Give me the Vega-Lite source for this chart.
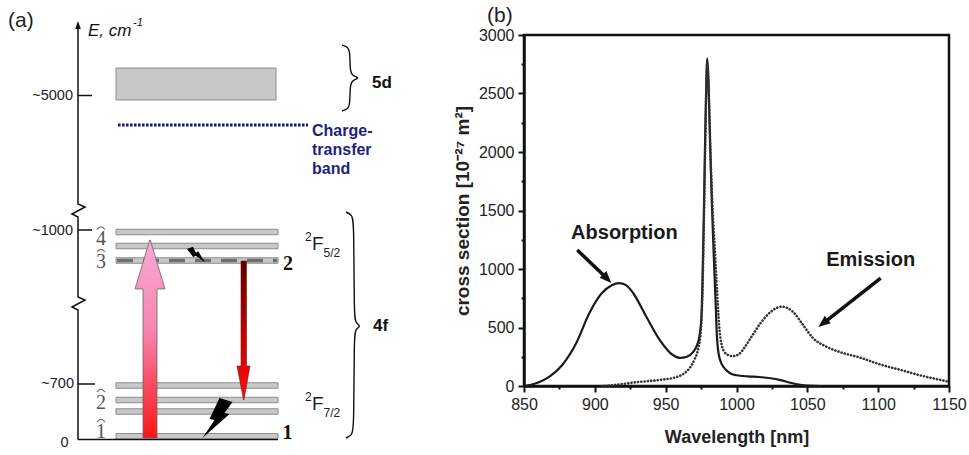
{
  "$schema": "https://vega.github.io/schema/vega-lite/v6.json",
  "padding": 0,
  "background": "white",
  "config": {"view": {"stroke": null}},
  "datasets": {
    "axisLine": [
      {"o": 1, "x": 15.6, "y": 3.1}, {"o": 2, "x": 15.6, "y": 29.0}, {"o": 3, "x": 14.4, "y": 29.6},
      {"o": 4, "x": 17.0, "y": 31.0}, {"o": 5, "x": 15.6, "y": 31.6}, {"o": 6, "x": 15.6, "y": 47.6},
      {"o": 7, "x": 14.4, "y": 48.2}, {"o": 8, "x": 17.0, "y": 49.6}, {"o": 9, "x": 15.6, "y": 50.2},
      {"o": 10, "x": 15.6, "y": 85.6}
    ],
    "axisHead": [{"x": 15.6, "y": 86.0}],
    "ticksA": [
      {"x": 15.6, "x2": 18.4, "y": 71.9}, {"x": 15.6, "x2": 18.4, "y": 45.0},
      {"x": 15.6, "x2": 19.0, "y": 14.2}, {"x": 15.6, "x2": 55.6, "y": 3.1}
    ],
    "tickLabelsA": [
      {"x": 14.6, "y": 71.8, "t": "~5000"}, {"x": 14.6, "y": 44.8, "t": "~1000"},
      {"x": 14.8, "y": 14.2, "t": "~700"}, {"x": 13.7, "y": 2.4, "t": "0"}
    ],
    "bands": [
      {"x": 23.2, "x2": 55.2, "y": 71.0, "y2": 77.4},
      {"x": 23.2, "x2": 55.6, "y": 44.05, "y2": 45.15},
      {"x": 23.2, "x2": 55.6, "y": 41.25, "y2": 42.35},
      {"x": 23.2, "x2": 55.6, "y": 38.35, "y2": 39.45},
      {"x": 23.2, "x2": 55.6, "y": 13.35, "y2": 14.45},
      {"x": 23.2, "x2": 55.6, "y": 10.45, "y2": 11.55},
      {"x": 23.2, "x2": 55.6, "y": 8.15, "y2": 9.25},
      {"x": 23.2, "x2": 55.6, "y": 3.2, "y2": 4.3}
    ],
    "dashLevel": [{"x": 23.4, "x2": 55.4, "y": 38.9}],
    "ctLine": [{"x": 23.6, "x2": 61.6, "y": 66.0}],
    "ctText": [
      {"x": 62.4, "y": 64.8, "t": "Charge-"}, {"x": 62.4, "y": 61.0, "t": "transfer"},
      {"x": 62.4, "y": 57.2, "t": "band"}
    ],
    "braces": [
      {"b": "5d", "o": 1, "x": 68.4, "y": 82.0}, {"b": "5d", "o": 2, "x": 69.6, "y": 81.6},
      {"b": "5d", "o": 3, "x": 70.0, "y": 80.6}, {"b": "5d", "o": 4, "x": 70.0, "y": 76.6},
      {"b": "5d", "o": 5, "x": 70.6, "y": 75.8}, {"b": "5d", "o": 6, "x": 72.0, "y": 75.4},
      {"b": "5d", "o": 7, "x": 70.6, "y": 75.0}, {"b": "5d", "o": 8, "x": 70.0, "y": 74.2},
      {"b": "5d", "o": 9, "x": 70.0, "y": 70.2}, {"b": "5d", "o": 10, "x": 69.6, "y": 69.2},
      {"b": "5d", "o": 11, "x": 68.4, "y": 68.8},
      {"b": "4f", "o": 1, "x": 69.2, "y": 48.6}, {"b": "4f", "o": 2, "x": 70.4, "y": 48.0},
      {"b": "4f", "o": 3, "x": 70.8, "y": 46.6}, {"b": "4f", "o": 4, "x": 70.8, "y": 27.4},
      {"b": "4f", "o": 5, "x": 71.2, "y": 26.4}, {"b": "4f", "o": 6, "x": 72.2, "y": 25.8},
      {"b": "4f", "o": 7, "x": 71.2, "y": 25.2}, {"b": "4f", "o": 8, "x": 70.8, "y": 24.2},
      {"b": "4f", "o": 9, "x": 70.8, "y": 5.4}, {"b": "4f", "o": 10, "x": 70.4, "y": 4.0},
      {"b": "4f", "o": 11, "x": 69.2, "y": 3.4}
    ],
    "braceLabels": [{"x": 74.4, "y": 74.4, "t": "5d"}, {"x": 74.6, "y": 25.8, "t": "4f"}],
    "levelNums": [
      {"x": 20.2, "y": 43.2, "t": "4"}, {"x": 20.2, "y": 38.6, "t": "3"},
      {"x": 20.2, "y": 10.4, "t": "2"}, {"x": 20.2, "y": 4.7, "t": "1"}
    ],
    "levelHats": [{"x": 20.2, "y": 45.5}, {"x": 20.2, "y": 41.0}, {"x": 20.2, "y": 13.0}, {"x": 20.2, "y": 7.0}],
    "levelBold": [{"x": 57.6, "y": 38.3, "t": "2"}, {"x": 57.5, "y": 4.5, "t": "1"}],
    "termF": [{"x": 62.4, "y": 41.0, "t": "F"}, {"x": 62.4, "y": 9.0, "t": "F"}],
    "termSup": [{"x": 61.0, "y": 42.8, "t": "2"}, {"x": 61.0, "y": 10.8, "t": "2"}],
    "termSub": [{"x": 64.7, "y": 39.7, "t": "5/2"}, {"x": 64.7, "y": 7.7, "t": "7/2"}],
    "arrowUp": [
      {"y": 3.4, "x": 28.6, "x2": 31.4}, {"y": 33.2, "x": 28.6, "x2": 31.4},
      {"y": 33.21, "x": 27.0, "x2": 33.0}, {"y": 43.0, "x": 29.95, "x2": 30.05}
    ],
    "arrowDown": [
      {"y": 11.0, "x": 48.72, "x2": 48.78}, {"y": 17.79, "x": 47.4, "x2": 50.0},
      {"y": 17.8, "x": 48.2, "x2": 49.3}, {"y": 38.8, "x": 48.2, "x2": 49.3}
    ],
    "boltBig": [{"x": 43.5, "y": 7.4}],
    "boltSmall": [{"x": 39.2, "y": 40.1}],
    "titleA": [{"x": 1.6, "y": 86.8, "t": "(a)"}],
    "eLabel": [{"x": 17.6, "y": 84.8, "t": "E, cm"}],
    "eSup": [{"x": 26.6, "y": 86.4, "t": "-1"}],
    "blabel": [{"x": 823.9, "y": 0.55, "t": "(b)"}],
    "absorption": [
      {"wl": 850, "cs": 0}, {"wl": 855, "cs": 10}, {"wl": 860, "cs": 30}, {"wl": 868, "cs": 80},
      {"wl": 877, "cs": 180}, {"wl": 887, "cs": 370}, {"wl": 896, "cs": 620}, {"wl": 905, "cs": 795},
      {"wl": 912, "cs": 862}, {"wl": 917, "cs": 880}, {"wl": 922, "cs": 862}, {"wl": 927, "cs": 795},
      {"wl": 936, "cs": 600}, {"wl": 946, "cs": 390}, {"wl": 955, "cs": 265}, {"wl": 960, "cs": 240},
      {"wl": 965, "cs": 250}, {"wl": 969, "cs": 285}, {"wl": 972, "cs": 345}, {"wl": 974, "cs": 440},
      {"wl": 975.3, "cs": 600}, {"wl": 976, "cs": 900}, {"wl": 977, "cs": 1500}, {"wl": 978, "cs": 2200},
      {"wl": 978.8, "cs": 2650}, {"wl": 979.3, "cs": 2800}, {"wl": 980.2, "cs": 2620}, {"wl": 981.3, "cs": 2100},
      {"wl": 982.5, "cs": 1600}, {"wl": 984, "cs": 1100}, {"wl": 985.3, "cs": 700}, {"wl": 986.2, "cs": 420},
      {"wl": 987.2, "cs": 290}, {"wl": 988.5, "cs": 220}, {"wl": 991, "cs": 160}, {"wl": 995, "cs": 113},
      {"wl": 1000, "cs": 92}, {"wl": 1008, "cs": 82}, {"wl": 1016, "cs": 77}, {"wl": 1024, "cs": 66},
      {"wl": 1031, "cs": 50}, {"wl": 1038, "cs": 28}, {"wl": 1044, "cs": 12}, {"wl": 1050, "cs": 3},
      {"wl": 1060, "cs": 0}
    ],
    "emission": [
      {"wl": 905, "cs": 0}, {"wl": 915, "cs": 10}, {"wl": 929, "cs": 32}, {"wl": 946, "cs": 52},
      {"wl": 958, "cs": 78}, {"wl": 963, "cs": 108}, {"wl": 967, "cs": 155}, {"wl": 970.5, "cs": 230},
      {"wl": 973, "cs": 320}, {"wl": 974.8, "cs": 470}, {"wl": 976, "cs": 800}, {"wl": 977, "cs": 1400},
      {"wl": 978, "cs": 2100}, {"wl": 978.8, "cs": 2600}, {"wl": 979.3, "cs": 2760}, {"wl": 980.2, "cs": 2580},
      {"wl": 981.5, "cs": 2050}, {"wl": 983, "cs": 1550}, {"wl": 985, "cs": 1100}, {"wl": 986.8, "cs": 700},
      {"wl": 988, "cs": 480}, {"wl": 989.5, "cs": 350}, {"wl": 991, "cs": 300}, {"wl": 994, "cs": 265},
      {"wl": 997.5, "cs": 255}, {"wl": 1002, "cs": 275}, {"wl": 1006, "cs": 335}, {"wl": 1010, "cs": 410},
      {"wl": 1017, "cs": 538}, {"wl": 1024, "cs": 632}, {"wl": 1032, "cs": 678}, {"wl": 1040, "cs": 632},
      {"wl": 1047, "cs": 521}, {"wl": 1054, "cs": 410}, {"wl": 1064, "cs": 333}, {"wl": 1073, "cs": 290},
      {"wl": 1088, "cs": 240}, {"wl": 1102, "cs": 182}, {"wl": 1116, "cs": 137}, {"wl": 1130, "cs": 90},
      {"wl": 1144, "cs": 52}, {"wl": 1150, "cs": 36}
    ],
    "arrowRulesB": [
      {"wl": 887.6, "cs": 1162, "wl2": 907.7, "cs2": 930},
      {"wl": 1101.8, "cs": 923, "wl2": 1062.3, "cs2": 547}
    ],
    "arrowHeadsB": [
      {"wl": 908.7, "cs": 917, "ang": 135.8},
      {"wl": 1061.1, "cs": 536, "ang": 231.7}
    ],
    "labelsB": [
      {"wl": 920.9, "cs": 1308, "t": "Absorption"},
      {"wl": 1094.7, "cs": 1077, "t": "Emission"}
    ]
  },
  "bounds": "flush",
  "spacing": 44,
  "hconcat": [
    {
      "width": 480,
      "height": 455,
      "encoding": {
        "x": {"field": "x", "type": "quantitative", "scale": {"domain": [0, 96], "nice": false, "zero": false}, "axis": null},
        "y": {"field": "y", "type": "quantitative", "scale": {"domain": [0, 91], "nice": false, "zero": false}, "axis": null}
      },
      "layer": [
        {"data": {"name": "bands"}, "mark": {"type": "rect", "fill": "#c8c8c8", "stroke": "#8c8c8c", "strokeWidth": 1},
         "encoding": {"x2": {"field": "x2"}, "y2": {"field": "y2"}}},
        {"data": {"name": "dashLevel"}, "mark": {"type": "rule", "color": "#6f6f6f", "strokeWidth": 3.5, "strokeDash": [16, 10]},
         "encoding": {"x2": {"field": "x2"}}},
        {"data": {"name": "ctLine"}, "mark": {"type": "rule", "color": "#1b1b78", "strokeWidth": 3, "strokeDash": [2.6, 1.4]},
         "encoding": {"x2": {"field": "x2"}}},
        {"data": {"name": "axisLine"}, "mark": {"type": "line", "color": "#111", "strokeWidth": 1.5},
         "encoding": {"order": {"field": "o", "type": "quantitative"}}},
        {"data": {"name": "ticksA"}, "mark": {"type": "rule", "color": "#111", "strokeWidth": 1.5},
         "encoding": {"x2": {"field": "x2"}}},
        {"data": {"name": "axisHead"}, "mark": {"type": "point", "shape": "M0,-1L0.7,1L-0.7,1Z", "filled": true, "color": "#111", "size": 64, "opacity": 1}},
        {"data": {"name": "tickLabelsA"}, "mark": {"type": "text", "align": "right", "baseline": "middle", "font": "Liberation Sans", "fontSize": 14.5, "color": "#222"},
         "encoding": {"text": {"field": "t"}}},
        {"data": {"name": "titleA"}, "mark": {"type": "text", "align": "left", "baseline": "middle", "font": "Liberation Sans", "fontSize": 21, "color": "#222"},
         "encoding": {"text": {"field": "t"}}},
        {"data": {"name": "eLabel"}, "mark": {"type": "text", "align": "left", "baseline": "middle", "font": "Liberation Sans", "fontSize": 17, "fontStyle": "italic", "color": "#111"},
         "encoding": {"text": {"field": "t"}}},
        {"data": {"name": "eSup"}, "mark": {"type": "text", "align": "left", "baseline": "middle", "font": "Liberation Sans", "fontSize": 11, "fontStyle": "italic", "color": "#111"},
         "encoding": {"text": {"field": "t"}}},
        {"data": {"name": "ctText"}, "mark": {"type": "text", "align": "left", "baseline": "middle", "font": "Liberation Sans", "fontSize": 16, "fontWeight": "bold", "color": "#1f1f80"},
         "encoding": {"text": {"field": "t"}}},
        {"data": {"name": "braces"}, "mark": {"type": "line", "color": "#111", "strokeWidth": 1.4, "interpolate": "basis"},
         "encoding": {"detail": {"field": "b"}, "order": {"field": "o", "type": "quantitative"}}},
        {"data": {"name": "braceLabels"}, "mark": {"type": "text", "align": "left", "baseline": "middle", "font": "Liberation Sans", "fontSize": 17, "fontWeight": "bold", "color": "#111"},
         "encoding": {"text": {"field": "t"}}},
        {"data": {"name": "levelNums"}, "mark": {"type": "text", "align": "center", "baseline": "middle", "font": "Liberation Serif", "fontSize": 20, "color": "#555"},
         "encoding": {"text": {"field": "t"}}},
        {"data": {"name": "levelHats"}, "mark": {"type": "point", "shape": "M-1,0.5Q0,-0.9,1,0.5", "filled": false, "stroke": "#666", "strokeWidth": 1.1, "size": 64, "opacity": 1}},
        {"data": {"name": "levelBold"}, "mark": {"type": "text", "align": "center", "baseline": "middle", "font": "Liberation Serif", "fontSize": 20, "fontWeight": "bold", "color": "#111"},
         "encoding": {"text": {"field": "t"}}},
        {"data": {"name": "termF"}, "mark": {"type": "text", "align": "left", "baseline": "alphabetic", "font": "Liberation Sans", "fontSize": 19, "color": "#222"},
         "encoding": {"text": {"field": "t"}}},
        {"data": {"name": "termSup"}, "mark": {"type": "text", "align": "left", "baseline": "alphabetic", "font": "Liberation Sans", "fontSize": 12, "color": "#222"},
         "encoding": {"text": {"field": "t"}}},
        {"data": {"name": "termSub"}, "mark": {"type": "text", "align": "left", "baseline": "alphabetic", "font": "Liberation Sans", "fontSize": 12, "color": "#222"},
         "encoding": {"text": {"field": "t"}}},
        {"data": {"name": "arrowUp"},
         "mark": {"type": "area", "orient": "horizontal", "stroke": "#666", "strokeWidth": 0.8,
                  "fill": {"gradient": "linear", "x1": 0, "y1": 0, "x2": 0, "y2": 1,
                           "stops": [{"offset": 0, "color": "#f6a9d4"}, {"offset": 0.45, "color": "#f787b0"}, {"offset": 1, "color": "#ff1414"}]}},
         "encoding": {"x2": {"field": "x2"}}},
        {"data": {"name": "arrowDown"},
         "mark": {"type": "area", "orient": "horizontal", "stroke": "#7a1010", "strokeWidth": 0.6,
                  "fill": {"gradient": "linear", "x1": 0, "y1": 0, "x2": 0, "y2": 1,
                           "stops": [{"offset": 0, "color": "#5a0000"}, {"offset": 0.6, "color": "#d00000"}, {"offset": 1, "color": "#ff1010"}]}},
         "encoding": {"x2": {"field": "x2"}}},
        {"data": {"name": "boltBig"}, "mark": {"type": "point", "shape": "M0.1,-1L0.75,-0.8L0.35,-0.25L0.6,-0.2L-0.75,1L-0.15,0.1L-0.4,0.05Z", "filled": true, "color": "#000", "size": 1600, "opacity": 1}},
        {"data": {"name": "boltSmall"}, "mark": {"type": "point", "shape": "M-1,-0.6L-0.35,-0.85L0,-0.2L0.25,-0.35L1,0.85L-0.05,0.15L-0.3,0.3Z", "filled": true, "color": "#000", "size": 324, "opacity": 1}}
      ]
    },
    {
      "bounds": "flush",
      "spacing": 0,
      "vconcat": [
        {
          "width": 425,
          "height": 35,
          "data": {"name": "blabel"},
          "mark": {"type": "text", "align": "left", "baseline": "middle", "font": "Liberation Sans", "fontSize": 21, "color": "#222"},
          "encoding": {
            "x": {"field": "x", "type": "quantitative", "scale": {"domain": [850, 1150], "nice": false, "zero": false}, "axis": null},
            "y": {"field": "y", "type": "quantitative", "scale": {"domain": [0, 1], "nice": false}, "axis": null},
            "text": {"field": "t"}
          }
        },
        {
          "width": 425,
          "height": 351,
          "view": {"stroke": "#111", "strokeWidth": 2.5},
          "encoding": {
            "x": {"field": "wl", "type": "quantitative",
                  "scale": {"domain": [850, 1150], "nice": false, "zero": false},
                  "axis": {"title": "Wavelength [nm]", "values": [850, 875, 900, 925, 950, 975, 1000, 1025, 1050, 1075, 1100, 1125, 1150],
                           "format": "d", "labelExpr": "datum.value % 50 === 0 ? datum.label : ''", "labelOverlap": false, "labelFlush": false,
                           "tickSize": {"condition": {"test": "datum.value % 50 === 0", "value": 6}, "value": 3},
                           "tickWidth": 2, "tickColor": "#111", "domainColor": "#111", "domainWidth": 2.5, "grid": false,
                           "labelFont": "Liberation Sans", "labelFontSize": 16, "labelColor": "#222", "labelPadding": 4,
                           "titleFont": "Liberation Sans", "titleFontSize": 18, "titleFontWeight": "bold", "titleColor": "#222", "titlePadding": 16}},
            "y": {"field": "cs", "type": "quantitative",
                  "scale": {"domain": [0, 3000], "nice": false},
                  "axis": {"title": "cross section [10⁻²⁷ m²]", "values": [0, 250, 500, 750, 1000, 1250, 1500, 1750, 2000, 2250, 2500, 2750, 3000],
                           "format": "d", "labelExpr": "datum.value % 500 === 0 ? datum.label : ''", "labelOverlap": false, "labelFlush": false,
                           "tickSize": {"condition": {"test": "datum.value % 500 === 0", "value": 6}, "value": 3},
                           "tickWidth": 2, "tickColor": "#111", "domainColor": "#111", "domainWidth": 2.5, "grid": false,
                           "labelFont": "Liberation Sans", "labelFontSize": 16, "labelColor": "#222", "labelPadding": 4,
                           "titleFont": "Liberation Sans", "titleFontSize": 19, "titleFontWeight": "bold", "titleColor": "#222", "titlePadding": 6}}
          },
          "layer": [
            {"data": {"name": "absorption"}, "mark": {"type": "line", "color": "#1a1a1a", "strokeWidth": 2.2, "interpolate": "monotone"}},
            {"data": {"name": "emission"}, "mark": {"type": "line", "color": "#333", "strokeWidth": 2.6, "strokeDash": [0.1, 3.2], "strokeCap": "round", "interpolate": "monotone"}},
            {"data": {"name": "arrowRulesB"}, "mark": {"type": "rule", "color": "#111", "strokeWidth": 3.5},
             "encoding": {"x2": {"field": "wl2"}, "y2": {"field": "cs2"}}},
            {"data": {"name": "arrowHeadsB"}, "mark": {"type": "point", "shape": "M0,-1L0.8,1L-0.8,1Z", "filled": true, "color": "#111", "size": 144, "opacity": 1},
             "encoding": {"angle": {"field": "ang", "type": "quantitative", "scale": null}}},
            {"data": {"name": "labelsB"}, "mark": {"type": "text", "align": "center", "baseline": "middle", "font": "Liberation Sans", "fontSize": 20, "fontWeight": "bold", "color": "#1a1a1a"},
             "encoding": {"text": {"field": "t"}}}
          ]
        }
      ]
    }
  ]
}
